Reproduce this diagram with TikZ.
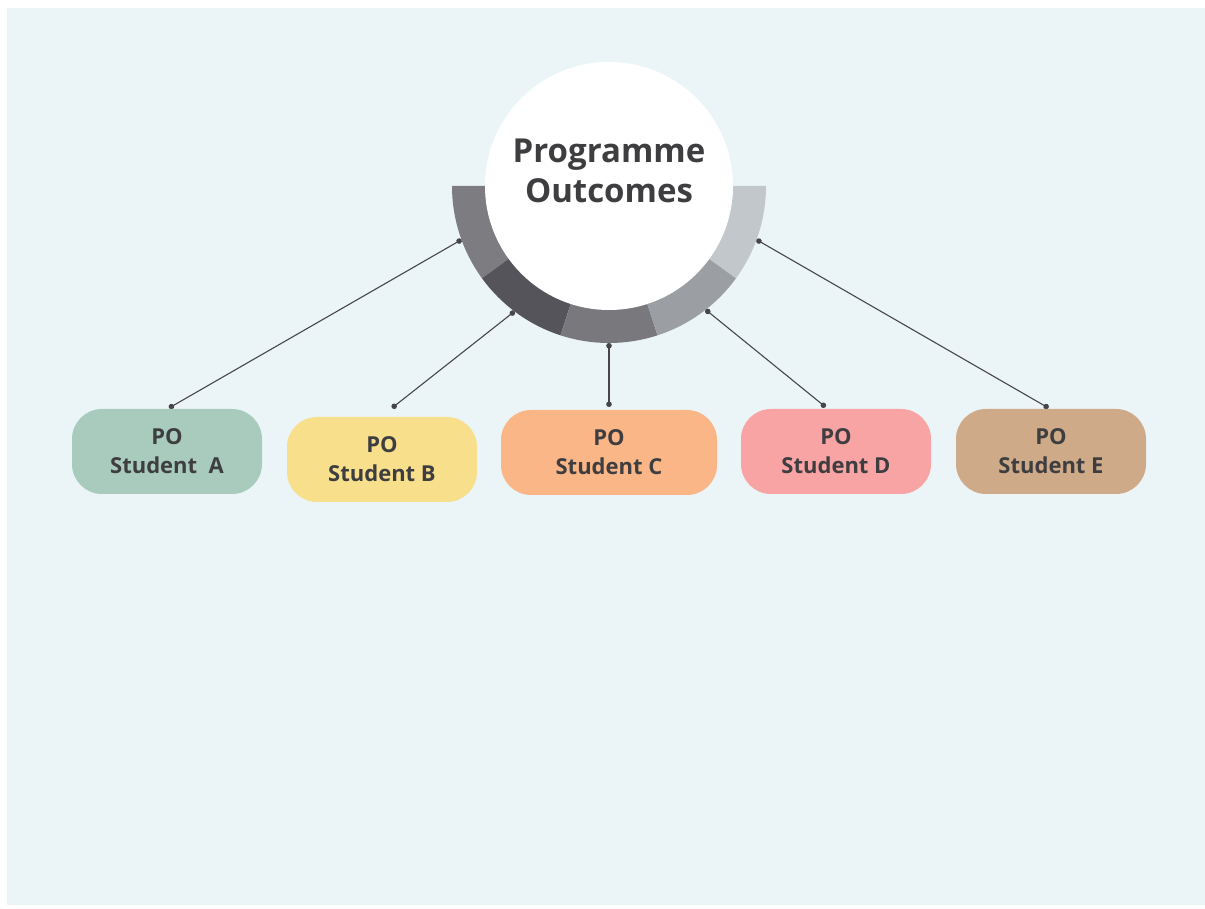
\documentclass[tikz,border=0pt]{standalone}
\usepackage{fontspec}
\setmainfont{Open Sans}
\usetikzlibrary{arrows.meta, positioning}
\definecolor{backblue}{RGB}{235,245,247}
\definecolor{textgrey}{RGB}{62,62,64}
\definecolor{linegrey}{RGB}{70,70,72}
\definecolor{ringA}{RGB}{125,124,129}
\definecolor{ringB}{RGB}{85,84,90}
\definecolor{ringC}{RGB}{120,120,125}
\definecolor{ringD}{RGB}{155,159,163}
\definecolor{ringE}{RGB}{193,199,202}
\definecolor{poA}{RGB}{168,203,190}
\definecolor{poB}{RGB}{248,223,139}
\definecolor{poC}{RGB}{251,182,135}
\definecolor{poD}{RGB}{248,163,164}
\definecolor{poE}{RGB}{207,170,136}
\tikzstyle{student}=[rectangle, rounded corners=30pt, minimum width=190pt, minimum height=85pt,
                     align=center, text=textgrey, font=\fontsize{22}{29}\selectfont\bfseries]
\tikzstyle{outcome}=[circle, fill=white, minimum size=248pt, inner sep=0pt]
\tikzstyle{title}=[align=center, text=textgrey, font=\fontsize{33}{40}\selectfont\bfseries]
\tikzstyle{link}=[draw=linegrey, line width=1.1pt, {Circle[length=5.5pt]}-{Circle[length=5.5pt]}]

\begin{document}
\begin{tikzpicture}[x=1pt, y=1pt]

  \useasboundingbox (0,0) rectangle (1205,908);
  \fill[backblue] (7,3) rectangle (1205,900);

  \coordinate (mid) at (609,722);
  \foreach \a/\c in {180/ringA,216/ringB,252/ringC,288/ringD,324/ringE}{
    \fill[\c] (mid) -- ++(\a:157pt) arc[start angle=\a, delta angle=36, radius=157pt] -- cycle;
  }

  \node[outcome] (po) at (mid) {};
  \node[title] (potext) at ([yshift=15pt]po.center) {Programme\\Outcomes};

  \foreach \i/\ang/\tx/\ty in {A/200/169/500,B/233/392/500,C/270/609/501,D/308/825.5/501,E/340/1048.5/500}{
    \coordinate (r\i) at ([shift={(\ang:157pt)}]mid);
    \coordinate (t\i) at (\tx,\ty);
    \draw[link] (r\i) -- (t\i);
  }

  \node[student, fill=poA] (A) at (167,456.5) {PO\\Student\ \ A};
  \node[student, fill=poB] (B) at (382,448.5) {PO\\Student B};
  \node[student, fill=poC, minimum width=216pt] (C) at (609,455.5) {PO\\Student C};
  \node[student, fill=poD] (D) at (836,456.5) {PO\\Student D};
  \node[student, fill=poE] (E) at (1051,456.5) {PO\\Student E};

\end{tikzpicture}
\end{document}
